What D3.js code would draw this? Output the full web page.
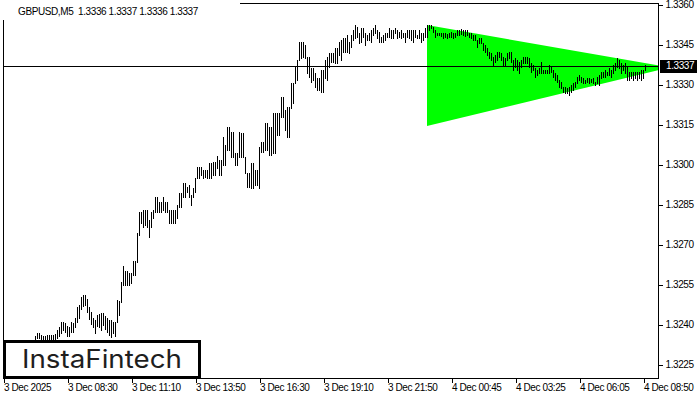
<!DOCTYPE html>
<html><head><meta charset="utf-8">
<script src="https://cdn.jsdelivr.net/npm/d3@7"></script>
<style>
body{margin:0;background:#fff;}
svg{display:block;}
.lbl{font-family:"Liberation Sans",Arial,sans-serif;font-size:10px;letter-spacing:-0.4px;fill:#000;}
</style>
</head><body><svg id="c" width="700" height="400"></svg>
<script>
// ---------- data ----------
const symbol = "GBPUSD,M5";
const lastOHLC = [1.3336, 1.3337, 1.3336, 1.3337];
const currentPrice = 1.3337;
const xTickIndex = [0, 32, 64, 96, 128, 160, 192, 224, 256, 288, 320];
const xTickLabels = ["3 Dec 2025", "3 Dec 08:30", "3 Dec 11:10", "3 Dec 13:50", "3 Dec 16:30",
  "3 Dec 19:10", "3 Dec 21:50", "4 Dec 00:45", "4 Dec 03:25", "4 Dec 06:05", "4 Dec 08:50"];
const yTicks = [1.3225, 1.3240, 1.3255, 1.3270, 1.3285, 1.3300, 1.3315, 1.3330, 1.3345, 1.3360];

const highs = [
  1.32318,1.32305,1.32322,1.32296,1.32284,1.32301,1.32315,1.32292,1.32276,1.32288,1.32302,1.32320,1.32311,1.32331,1.32322,1.32330,
  1.32357,1.32368,1.32368,1.32361,1.32357,1.32357,1.32361,1.32361,1.32361,1.32361,
  1.32365,1.32379,1.32391,1.32409,1.32409,1.32406,1.32394,1.32391,1.32409,1.32406,
  1.32424,1.32466,1.32473,1.32503,1.32511,1.32511,1.32496,1.32466,1.32447,1.32424,
  1.32417,1.32436,1.32439,1.32443,1.32443,1.32432,1.32424,1.32417,1.32417,1.32409,
  1.32409,1.32492,1.32488,1.32559,1.32619,1.32601,1.32601,1.32593,1.32593,1.32638,
  1.32638,1.32743,1.32822,1.32822,1.32829,1.32829,1.32829,1.32792,1.32822,1.32829,
  1.32878,1.32878,1.32859,1.32859,1.32878,1.32859,1.32859,1.32829,1.32829,1.32829,
  1.32829,1.32848,1.32893,1.32893,1.32931,1.32931,1.32916,1.32923,1.32886,1.32912,
  1.32949,1.32991,1.32991,1.32991,1.32979,1.32979,1.32979,1.33006,1.33006,1.33009,
  1.33009,1.33032,1.33017,1.33017,1.33103,1.33073,1.33141,1.33141,1.33122,1.33122,
  1.33043,1.33043,1.33122,1.33118,1.33118,1.33028,1.32968,1.32968,1.33006,1.33006,
  1.32979,1.32979,1.33066,1.33084,1.33084,1.33156,1.33156,1.33141,1.33141,1.33193,
  1.33193,1.33193,1.33193,1.33253,1.33253,1.33204,1.33216,1.33216,1.33306,1.33306,
  1.33366,1.33392,1.33459,1.33459,1.33459,1.33448,1.33403,1.33403,1.33362,1.33362,
  1.33343,1.33324,1.33324,1.33354,1.33354,1.33392,1.33403,1.33418,1.33418,1.33418,
  1.33437,1.33437,1.33459,1.33467,1.33474,1.33474,1.33486,1.33459,1.33486,1.33504,
  1.33523,1.33516,1.33493,1.33512,1.33512,1.33493,1.33486,1.33493,1.33504,1.33512,
  1.33523,1.33504,1.33497,1.33478,1.33486,1.33493,1.33493,1.33512,1.33504,1.33504,
  1.33512,1.33504,1.33497,1.33504,1.33493,1.33493,1.33504,1.33504,1.33504,1.33504,
  1.33504,1.33486,1.33504,1.33493,1.33493,1.33512,1.33523,1.33523,1.33523,1.33516,
  1.33504,1.33493,1.33493,1.33493,1.33493,1.33493,1.33489,1.33493,1.33497,1.33493,
  1.33493,1.33504,1.33504,1.33508,1.33504,1.33504,1.33504,1.33493,1.33493,1.33486,
  1.33486,1.33467,1.33474,1.33474,1.33456,1.33448,1.33437,1.33422,1.33418,1.33403,
  1.33411,1.33422,1.33422,1.33418,1.33403,1.33399,1.33418,1.33422,1.33422,1.33392,
  1.33399,1.33392,1.33384,1.33392,1.33403,1.33403,1.33403,1.33399,1.33381,1.33373,
  1.33362,1.33354,1.33362,1.33384,1.33354,1.33354,1.33354,1.33373,1.33366,1.33354,
  1.33343,1.33336,1.33317,1.33309,1.33291,1.33291,1.33287,1.33291,1.33298,1.33306,
  1.33309,1.33328,1.33336,1.33328,1.33324,1.33317,1.33324,1.33324,1.33321,1.33324,
  1.33309,1.33328,1.33336,1.33347,1.33347,1.33354,1.33347,1.33362,1.33354,1.33373,
  1.33381,1.33399,1.33392,1.33381,1.33373,1.33381,1.33366,1.33347,1.33347,1.33347,
  1.33347,1.33347,1.33347,1.33354,1.33354,1.33373
];
const lows = [
  1.32271,1.32262,1.32280,1.32255,1.32240,1.32258,1.32270,1.32248,1.32233,1.32245,1.32262,1.32279,1.32268,1.32288,1.32280,1.32290,
  1.32335,1.32349,1.32349,1.32346,1.32338,1.32342,1.32342,1.32346,1.32346,1.32342,
  1.32346,1.32349,1.32357,1.32368,1.32379,1.32372,1.32357,1.32357,1.32372,1.32372,
  1.32391,1.32409,1.32424,1.32458,1.32469,1.32473,1.32447,1.32421,1.32402,1.32391,
  1.32368,1.32394,1.32391,1.32379,1.32398,1.32383,1.32372,1.32361,1.32353,1.32368,
  1.32357,1.32409,1.32436,1.32484,1.32548,1.32548,1.32548,1.32548,1.32555,1.32586,
  1.32586,1.32634,1.32736,1.32781,1.32766,1.32773,1.32766,1.32728,1.32766,1.32799,
  1.32822,1.32822,1.32822,1.32822,1.32829,1.32822,1.32822,1.32781,1.32781,1.32781,
  1.32781,1.32799,1.32841,1.32841,1.32878,1.32878,1.32897,1.32878,1.32848,1.32878,
  1.32897,1.32949,1.32949,1.32961,1.32949,1.32953,1.32949,1.32949,1.32949,1.32961,
  1.32961,1.32987,1.32961,1.32961,1.32998,1.32998,1.33054,1.33054,1.33028,1.33028,
  1.32998,1.32998,1.33028,1.33028,1.33028,1.32968,1.32916,1.32916,1.32912,1.32912,
  1.32923,1.32923,1.32912,1.33047,1.33047,1.33054,1.33054,1.33036,1.33036,1.33043,
  1.33043,1.33111,1.33111,1.33178,1.33178,1.33129,1.33103,1.33103,1.33212,1.33231,
  1.33306,1.33317,1.33392,1.33399,1.33403,1.33399,1.33343,1.33328,1.33309,1.33317,
  1.33291,1.33279,1.33279,1.33272,1.33272,1.33324,1.33317,1.33366,1.33384,1.33384,
  1.33381,1.33381,1.33411,1.33392,1.33422,1.33422,1.33422,1.33418,1.33441,1.33467,
  1.33474,1.33478,1.33456,1.33459,1.33478,1.33448,1.33467,1.33467,1.33459,1.33486,
  1.33493,1.33474,1.33459,1.33459,1.33459,1.33467,1.33478,1.33478,1.33474,1.33474,
  1.33493,1.33474,1.33478,1.33474,1.33478,1.33459,1.33478,1.33474,1.33467,1.33459,
  1.33478,1.33474,1.33474,1.33459,1.33467,1.33478,1.33478,1.33504,1.33512,1.33497,
  1.33478,1.33486,1.33486,1.33482,1.33474,1.33478,1.33474,1.33478,1.33478,1.33474,
  1.33478,1.33486,1.33486,1.33489,1.33486,1.33482,1.33486,1.33478,1.33474,1.33467,
  1.33467,1.33441,1.33456,1.33456,1.33429,1.33422,1.33411,1.33399,1.33392,1.33373,
  1.33384,1.33392,1.33403,1.33392,1.33373,1.33373,1.33392,1.33399,1.33384,1.33354,
  1.33366,1.33354,1.33343,1.33366,1.33381,1.33381,1.33381,1.33366,1.33347,1.33354,
  1.33328,1.33336,1.33343,1.33343,1.33343,1.33343,1.33343,1.33343,1.33347,1.33328,
  1.33317,1.33309,1.33291,1.33287,1.33272,1.33268,1.33268,1.33261,1.33272,1.33279,
  1.33291,1.33306,1.33317,1.33309,1.33306,1.33306,1.33309,1.33306,1.33309,1.33306,
  1.33298,1.33306,1.33298,1.33324,1.33328,1.33328,1.33336,1.33336,1.33328,1.33343,
  1.33354,1.33366,1.33362,1.33343,1.33354,1.33343,1.33317,1.33317,1.33324,1.33317,
  1.33324,1.33317,1.33324,1.33317,1.33324,1.33354
];
// symmetrical triangle pattern: vertices as [bar index, price]
const triangleIdx = [212, 212, 333.5];
const trianglePrice = [1.33523, 1.33144, 1.33364];
const brand = "InstaFintech";

// ---------- layout ----------
const L = 3, R = 659, T = 3, B = 379;
const svg = d3.select("#c");
svg.append("rect").attr("width", 700).attr("height", 400).attr("fill", "#fff");

const x = d3.scaleLinear().domain([0, 328]).range([L, R]);
const y = d3.scaleLinear().domain([1.3225, 1.3360]).range([364.5, 4.5]);

svg.append("defs").append("clipPath").attr("id", "plot")
  .append("rect").attr("x", L).attr("y", T).attr("width", R - L).attr("height", B - T);

const plot = svg.append("g").attr("clip-path", "url(#plot)");

// triangle
const triPts = triangleIdx.map((d, i) => [x(d), y(trianglePrice[i])]);
plot.append("path")
  .attr("d", d3.line()(triPts) + "Z")
  .attr("fill", "#00ff00");

// bars
plot.append("g").selectAll("rect").data(highs).join("rect")
  .attr("shape-rendering", "crispEdges")
  .attr("x", (d, i) => Math.round(x(i)))
  .attr("y", d => Math.round(y(d)))
  .attr("width", 1)
  .attr("height", (d, i) => Math.max(1, Math.round(y(lows[i])) - Math.round(y(d)) + 1))
  .attr("fill", "#000");

// current price line
plot.append("line")
  .attr("x1", L).attr("x2", R)
  .attr("y1", Math.round(y(currentPrice)) + 0.5).attr("y2", Math.round(y(currentPrice)) + 0.5)
  .attr("stroke", "#000").attr("stroke-width", 1);

// frame
svg.append("rect").attr("x", L + 0.5).attr("y", T + 0.5)
  .attr("width", R - L - 1).attr("height", B - T - 1)
  .attr("fill", "none").attr("stroke", "#000").attr("shape-rendering", "crispEdges");

// y axis (right)
const yAxis = d3.axisRight(y).tickValues(yTicks).tickFormat(d3.format(".4f")).tickSize(4).tickPadding(3);
const gy = svg.append("g").attr("transform", `translate(${R - 0.5},0)`).call(yAxis);
gy.select(".domain").remove();
gy.selectAll("line").attr("stroke", "#000").attr("shape-rendering", "crispEdges");
gy.selectAll("text").attr("class", "lbl").attr("font-size", null).attr("font-family", null);

// x axis (bottom)
const xAxis = d3.axisBottom(x).tickValues(xTickIndex)
  .tickFormat((d, i) => xTickLabels[i]).tickSize(4).tickPadding(1);
const gx = svg.append("g").attr("transform", `translate(0.5,${B - 0.5})`).call(xAxis);
gx.select(".domain").remove();
gx.selectAll("line").attr("stroke", "#000").attr("shape-rendering", "crispEdges");
gx.selectAll("text").attr("class", "lbl").attr("text-anchor", "start").attr("x", 0)
  .attr("font-size", null).attr("font-family", null);

// price tag
const py = y(currentPrice);
svg.append("rect").attr("x", 660).attr("y", Math.round(py) - 6).attr("width", 37).attr("height", 13).attr("fill", "#000");
svg.append("text").attr("class", "lbl").attr("x", 666).attr("y", py).attr("dy", "0.35em")
  .style("fill", "#fff").text(d3.format(".4f")(currentPrice));

// title
svg.append("rect").attr("x", 0).attr("y", 0).attr("width", 240).attr("height", 20).attr("fill", "#fff");
svg.append("text").attr("class", "lbl").attr("x", 18).attr("y", 15)
  .text(symbol + "  " + lastOHLC.map(d3.format(".4f")).join(" "))
  .attr("xml:space", "preserve").style("white-space", "pre");

// logo
svg.append("rect").attr("x", 4.5).attr("y", 341.5).attr("width", 195).attr("height", 36)
  .attr("fill", "#fff").attr("stroke", "#000").attr("stroke-width", 3);
svg.append("text").attr("x", 22).attr("y", 368)
  .attr("font-family", "Inter, 'Noto Sans', sans-serif").attr("font-size", 25).attr("font-weight", 400)
  .attr("fill", "#1e1e1e").attr("textLength", 160).attr("lengthAdjust", "spacingAndGlyphs")
  .text(brand);
</script></body></html>
